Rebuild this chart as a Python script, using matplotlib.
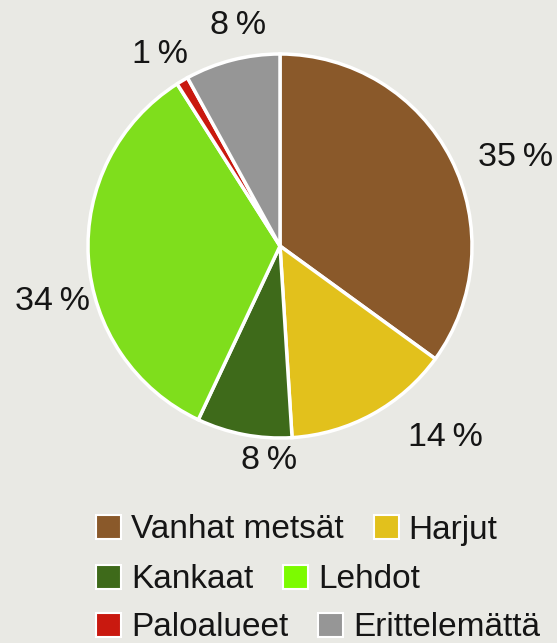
import numpy as np
import matplotlib
matplotlib.use('Agg')
import matplotlib.pyplot as plt
from matplotlib.patches import Patch

# Datos del gráfico
luokat = ['Vanhat metsät', 'Harjut', 'Kankaat', 'Lehdot', 'Paloalueet', 'Erittelemättä']
osuudet = [35, 14, 8, 34, 1, 8]
varit = ['#8a592a', '#e2c11c', '#3e6a1a', '#7fde1c', '#c9190f', '#969696']
legend_varit = ['#8a592a', '#e2c11c', '#3e6a1a', '#7cfb00', '#c9190f', '#969696']

# posiciones de las etiquetas (radio y giro en grados respecto al centro del sector)
label_r = [1.31, 1.32, 1.12, 1.22, 1.18, 1.17]
label_shift = [-6.3, 12, 8, 10, 1.5, -3.6]

plt.rcParams['font.family'] = ['Liberation Sans', 'DejaVu Sans']
bg = '#e9e9e4'

fig = plt.figure(figsize=(5.57, 6.43), dpi=100, facecolor=bg)
ax = fig.add_axes([88 / 557, (643 - 246 - 192) / 643, 384 / 557, 384 / 643])
ax.set_facecolor(bg)

wedges, _ = ax.pie(osuudet, colors=varit, startangle=90, counterclock=False,
                   wedgeprops=dict(edgecolor='white', linewidth=2.5))
ax.set_xlim(-1, 1)
ax.set_ylim(-1, 1)
ax.set_aspect('equal')
ax.axis('off')

# etiquetas de porcentaje
for w, p, r, s in zip(wedges, osuudet, label_r, label_shift):
    ang = np.deg2rad((w.theta1 + w.theta2) / 2 + s)
    ax.text(r * np.cos(ang), r * np.sin(ang), f'{p}\u2009%', ha='center', va='center',
            fontsize=24.5, color='#151515', clip_on=False)

# leyenda en tres filas
filas_y = [1 - 530 / 643, 1 - 580 / 643, 1 - 628 / 643]
for i, y in enumerate(filas_y):
    handles = [Patch(facecolor=legend_varit[j], edgecolor='white', linewidth=1.5)
               for j in (2 * i, 2 * i + 1)]
    labels = [luokat[2 * i], luokat[2 * i + 1]]
    fig.legend(handles, labels, loc='center left', bbox_to_anchor=(96 / 557, y),
               ncol=2, frameon=False, fontsize=24, handlelength=0.75, handleheight=0.7,
               handletextpad=0.3, columnspacing=0.9, borderpad=0, borderaxespad=0,
               labelcolor='#151515')

plt.savefig('out.png', dpi=100, facecolor=bg)
